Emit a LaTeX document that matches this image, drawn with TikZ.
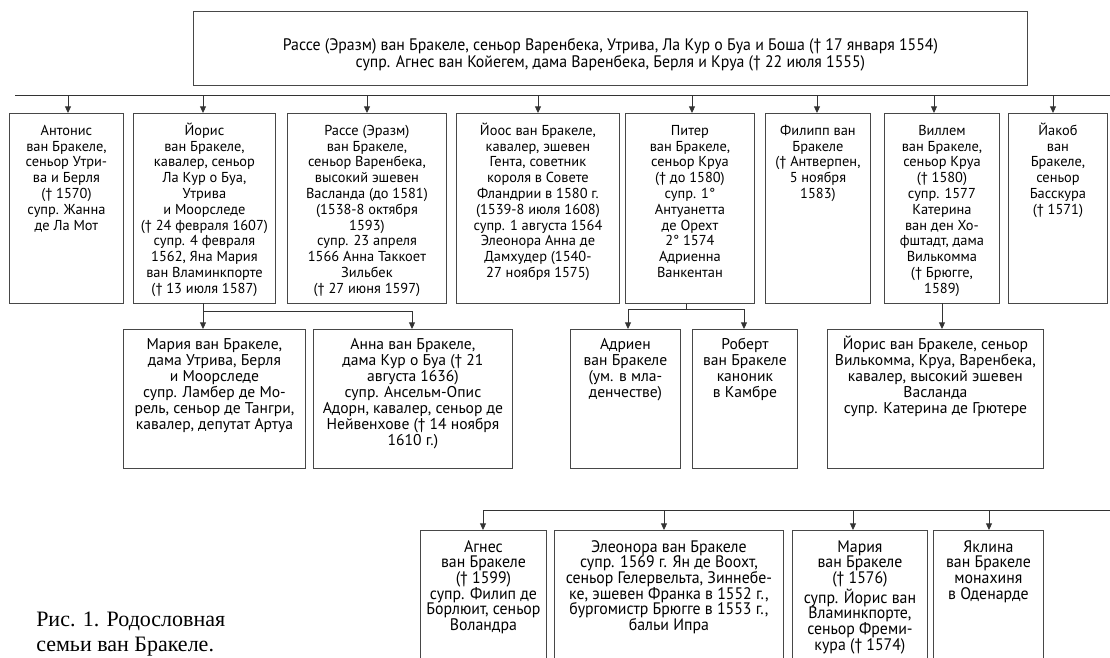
\documentclass[tikz,border=0pt]{standalone}
\usepackage{fontspec}
\setmainfont{PT Sans}
\newfontfamily\narfont[FakeStretch=0.95]{PT Sans}
\newfontfamily\capfont{Liberation Serif}
\usetikzlibrary{calc,arrows.meta}
\newcommand\rowA{\fontsize{10.8}{11.85}\selectfont}
\newcommand\rowB{\fontsize{11.7}{12}\selectfont}
\newcommand\rowN{\narfont\fontsize{12.5}{11.8}\selectfont}
\newcommand\rowT{\narfont\fontsize{12.5}{11.8}\selectfont}
\tikzset{
  box/.style={draw=black!72, line width=0.65pt, inner sep=0pt, anchor=north west},
  lblA/.style={font=\rowA, align=center, inner sep=0pt, anchor=north},
  lblB/.style={font=\rowB, align=center, inner sep=0pt, anchor=north},
  lblN/.style={font=\rowN, align=center, inner sep=0pt, anchor=north},
  lblT/.style={font=\rowT, align=center, inner sep=0pt, anchor=center},
  conn/.style={draw=black!80, line width=0.65pt},
  arr/.style={conn, -{Triangle[length=5pt,width=4.5pt]}},
}
\newcommand\fambox[5]{\node[box, minimum width={(#4-#2)*0.75pt}, minimum height={(#5-#3)*0.75pt}] (#1) at (#2,#3) {};}
\newcommand\famtext[4]{\node[#2] (#1t) at ($(#1.north)+(0,#3)$) {\rule{0pt}{1em}#4};}
\begin{document}
\begin{tikzpicture}[x=0.75pt,y=-0.75pt]
\useasboundingbox (0,0) rectangle (1110,657);
\clip (0,0) rectangle (1110,657);
% top
\fambox{top}{193}{11}{1027}{85}
\node[lblT] (topt) at ($(top.center)+(0,6)$) {Рассе (Эразм) ван Бракеле, сеньор Варенбека, Утрива, Ла Кур о Буа и Боша († 17 января 1554)\\супр. Агнес ван Койегем, дама Варенбека, Берля и Круа († 22 июля 1555)};
% row 1
\fambox{ant}{9}{113}{123}{303}
\fambox{jor}{133}{113}{275}{303}
\fambox{ras}{287}{113}{446}{303}
\fambox{joo}{456}{113}{619}{303}
\fambox{pit}{625}{113}{754}{303}
\fambox{fil}{765}{113}{870}{303}
\fambox{vil}{884}{113}{999}{303}
\fambox{jak}{1008}{113}{1107}{303}
\famtext{ant}{lblA}{7.6}{Антонис\\ван Бракеле,\\сеньор Утри-\\ва и Берля\\(† 1570)\\супр. Жанна\\де Ла Мот}
\famtext{jor}{lblA}{7.6}{Йорис\\ван Бракеле,\\кавалер, сеньор\\Ла Кур о Буа,\\Утрива\\и Моорследе\\(† 24 февраля 1607)\\супр. 4 февраля\\1562, Яна Мария\\ван Вламинкпорте\\(† 13 июля 1587)}
\famtext{ras}{lblA}{7.6}{Рассе (Эразм)\\ван Бракеле,\\сеньор Варенбека,\\высокий эшевен\\Васланда (до 1581)\\(1538-8 октября\\1593)\\супр. 23 апреля\\1566 Анна Таккоет\\Зильбек\\(† 27 июня 1597)}
\famtext{joo}{lblA}{7.6}{Йоос ван Бракеле,\\кавалер, эшевен\\Гента, советник\\короля в Совете\\Фландрии в 1580 г.\\(1539-8 июля 1608)\\супр. 1 августа 1564\\Элеонора Анна де\\Дамхудер (1540-\\27 ноября 1575)}
\famtext{pit}{lblA}{7.6}{Питер\\ван Бракеле,\\сеньор Круа\\(† до 1580)\\супр. 1°\\Антуанетта\\де Орехт\\2° 1574\\Адриенна\\Ванкентан}
\famtext{fil}{lblA}{7.6}{Филипп ван\\Бракеле\\(† Антверпен,\\5 ноября\\1583)}
\famtext{vil}{lblA}{7.6}{Виллем\\ван Бракеле,\\сеньор Круа\\(† 1580)\\супр. 1577\\Катерина\\ван ден Хо-\\фштадт, дама\\Вилькомма\\(† Брюгге,\\1589)}
\famtext{jak}{lblA}{7.6}{Йакоб\\ван\\Бракеле,\\сеньор\\Басскура\\(† 1571)}
% row 2
\fambox{mar}{123}{329}{305}{468}
\fambox{ann}{313}{329}{512}{468}
\fambox{adr}{570}{329}{680}{468}
\fambox{rob}{692}{329}{797}{468}
\fambox{jrs}{827}{329}{1043}{468}
\famtext{mar}{lblB}{5}{Мария ван Бракеле,\\дама Утрива, Берля\\и Моорследе\\супр. Ламбер де Мо-\\рель, сеньор де Тангри,\\кавалер, депутат Артуа}
\famtext{ann}{lblB}{5}{Анна ван Бракеле,\\дама Кур о Буа († 21\\августа 1636)\\супр. Ансельм-Опис\\Адорн, кавалер, сеньор де\\Нейвенхове († 14 ноября\\1610 г.)}
\famtext{adr}{lblB}{5}{Адриен\\ван Бракеле\\(ум. в мла-\\денчестве)}
\famtext{rob}{lblB}{5}{Роберт\\ван Бракеле\\каноник\\в Камбре}
\famtext{jrs}{lblB}{5}{Йорис ван Бракеле, сеньор\\Вилькомма, Круа, Варенбека,\\кавалер, высокий эшевен\\Васланда\\супр. Катерина де Грютере}
% row 3 (open at the bottom)
\fambox{agn}{420}{530}{546}{680}
\fambox{ele}{554}{530}{783}{680}
\fambox{mr3}{792}{530}{927}{680}
\fambox{jkl}{933}{530}{1043}{680}
\famtext{agn}{lblN}{5.1}{Агнес\\ван Бракеле\\(† 1599)\\супр. Филип де\\Борлюит, сеньор\\Воландра}
\famtext{ele}{lblN}{5.1}{Элеонора ван Бракеле\\супр. 1569 г. Ян де Воохт,\\сеньор Гелервельта, Зиннебе-\\ке, эшевен Франка в 1552 г.,\\бургомистр Брюгге в 1553 г.,\\бальи Ипра}
\famtext{mr3}{lblN}{5.1}{Мария\\ван Бракеле\\(† 1576)\\супр. Йорис ван\\Вламинкпорте,\\сеньор Фреми-\\кура († 1574)}
\famtext{jkl}{lblN}{5.1}{Яклина\\ван Бракеле\\монахиня\\в Оденарде}
% caption
\node[font=\capfont\fontsize{16.5}{18.75}\selectfont, align=left, anchor=north west, inner sep=0pt] (cap) at (36,604) {\rule{0pt}{1em}Рис. 1. Родословная\\семьи ван Бракеле.};
% connectors: top bar
\coordinate (tl) at (15,95);
\coordinate (tr) at (1110,95);
\draw[conn] (tl) -- (tr);
\coordinate (a1) at (68,95);
\coordinate (a2) at (203,95);
\coordinate (a3) at (367,95);
\coordinate (a4) at (538,95);
\coordinate (a5) at (692,95);
\coordinate (a6) at (817,95);
\coordinate (a7) at (934,95);
\coordinate (a8) at (1053,95);
\draw[arr] (a1) -- (a1 |- ant.north);
\draw[arr] (a2) -- (a2 |- jor.north);
\draw[arr] (a3) -- (a3 |- ras.north);
\draw[arr] (a4) -- (a4 |- joo.north);
\draw[arr] (a5) -- (a5 |- pit.north);
\draw[arr] (a6) -- (a6 |- fil.north);
\draw[arr] (a7) -- (a7 |- vil.north);
\draw[arr] (a8) -- (a8 |- jak.north);
% Joris children
\coordinate (jx) at (203,303);
\coordinate (jb) at (203,311);
\coordinate (annx) at (412,311);
\draw[arr] (jx) -- (jx |- mar.north);
\draw[arr] (jb) -- (annx) -- (annx |- ann.north);
% Pieter children
\coordinate (pj) at (686,309);
\coordinate (pl) at (628,309);
\coordinate (pr) at (744,309);
\draw[conn] (pj |- pit.south) -- (pj);
\draw[arr] (pj) -- (pl) -- (pl |- adr.north);
\draw[arr] (pj) -- (pr) -- (pr |- rob.north);
% Willem child
\coordinate (vj) at (942,303);
\draw[arr] (vj) -- (vj |- jrs.north);
% row 3 bar
\coordinate (r1) at (483,510);
\coordinate (r2) at (664,510);
\coordinate (r3) at (853,510);
\coordinate (r4) at (989,510);
\coordinate (rr) at (1110,510);
\draw[arr] (rr) -- (r1) -- (r1 |- agn.north);
\draw[arr] (r2) -- (r2 |- ele.north);
\draw[arr] (r3) -- (r3 |- mr3.north);
\draw[arr] (r4) -- (r4 |- jkl.north);
\end{tikzpicture}
\end{document}
